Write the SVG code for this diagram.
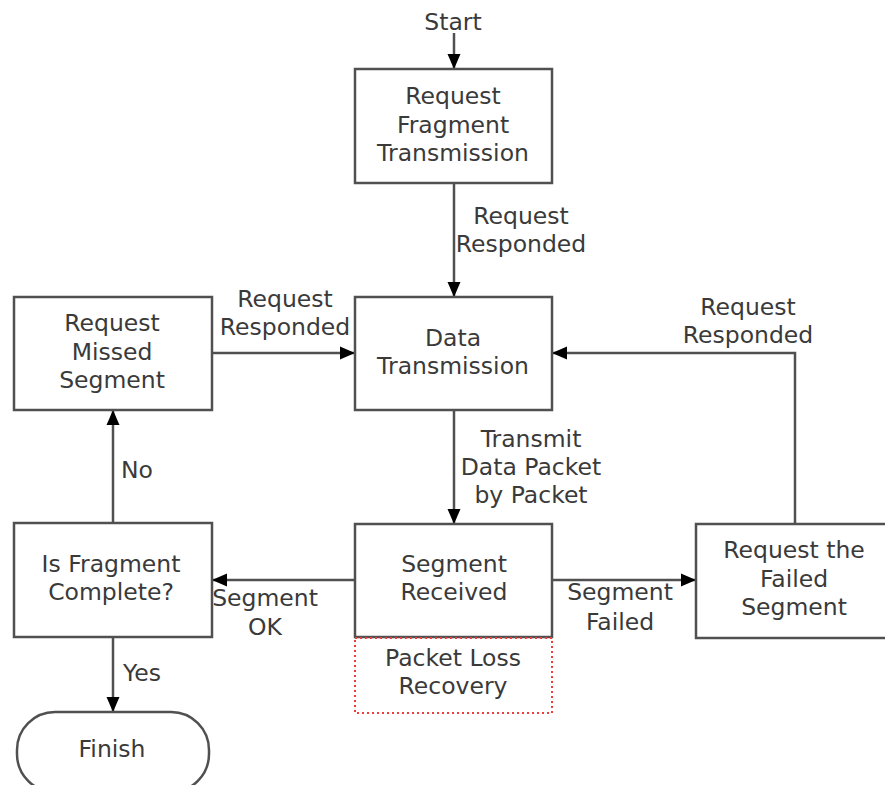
<svg xmlns="http://www.w3.org/2000/svg" width="885" height="785" viewBox="0 0 885 785">
  <style>
    .box { fill: #ffffff; stroke: #505050; stroke-width: 2.5; }
    .note { fill: none; stroke: #f03c3c; stroke-width: 2; stroke-dasharray: 2 3; }
    .edge { fill: none; stroke: #505050; stroke-width: 2.5; }
    text { font-family: "DejaVu Sans", Verdana, sans-serif; font-size: 23.5px; fill: #3a3a3a; text-anchor: middle; }
  </style>
  <defs>
    <marker id="arrow" markerUnits="userSpaceOnUse" markerWidth="15" markerHeight="14" refX="15" refY="7" orient="auto">
      <path d="M0,0.5 L15,7 L0,13.5 Z" fill="#000000"/>
    </marker>
  </defs>

  <rect width="885" height="785" fill="#ffffff"/>

  <!-- connectors -->
  <g id="connectors">
    <line class="edge" x1="454" y1="33" x2="454" y2="69" marker-end="url(#arrow)"/>
    <line class="edge" x1="454" y1="183" x2="454" y2="297" marker-end="url(#arrow)"/>
    <line class="edge" x1="212" y1="353" x2="355" y2="353" marker-end="url(#arrow)"/>
    <line class="edge" x1="454" y1="410" x2="454" y2="524" marker-end="url(#arrow)"/>
    <line class="edge" x1="552" y1="580" x2="696" y2="580" marker-end="url(#arrow)"/>
    <line class="edge" x1="355" y1="580" x2="212" y2="580" marker-end="url(#arrow)"/>
    <line class="edge" x1="113" y1="523" x2="113" y2="410" marker-end="url(#arrow)"/>
    <line class="edge" x1="113" y1="637" x2="113" y2="712" marker-end="url(#arrow)"/>
    <path class="edge" d="M795,524 V353 H552" marker-end="url(#arrow)"/>

    <text x="453" y="30">Start</text>
    <text x="521" y="224">Request</text>
    <text x="521" y="252">Responded</text>
    <text x="285" y="307">Request</text>
    <text x="285" y="335">Responded</text>
    <text x="748" y="315">Request</text>
    <text x="748" y="343">Responded</text>
    <text x="531" y="447">Transmit</text>
    <text x="531" y="475">Data Packet</text>
    <text x="531" y="503">by Packet</text>
    <text x="620" y="600">Segment</text>
    <text x="620" y="630">Failed</text>
    <text x="265" y="606">Segment</text>
    <text x="265" y="635">OK</text>
    <text x="137" y="478">No</text>
    <text x="142" y="681">Yes</text>
  </g>

  <g id="request-fragment">
    <rect class="box" x="355" y="69" width="197" height="114"/>
    <text x="453" y="104">Request</text>
    <text x="453" y="133">Fragment</text>
    <text x="453" y="161">Transmission</text>
  </g>

  <g id="data-transmission">
    <rect class="box" x="355" y="297" width="197" height="113"/>
    <text x="453" y="346">Data</text>
    <text x="453" y="374">Transmission</text>
  </g>

  <g id="request-missed">
    <rect class="box" x="14" y="297" width="198" height="113"/>
    <text x="112" y="331">Request</text>
    <text x="112" y="360">Missed</text>
    <text x="112" y="388">Segment</text>
  </g>

  <g id="segment-received">
    <rect class="box" x="355" y="524" width="197" height="113"/>
    <text x="454" y="572">Segment</text>
    <text x="454" y="600">Received</text>
  </g>

  <g id="packet-loss-recovery">
    <rect class="note" x="355" y="638" width="197" height="75"/>
    <text x="453" y="666">Packet Loss</text>
    <text x="453" y="694">Recovery</text>
  </g>

  <g id="request-failed">
    <rect class="box" x="696" y="524" width="197" height="114"/>
    <text x="794" y="558">Request the</text>
    <text x="794" y="587">Failed</text>
    <text x="794" y="615">Segment</text>
  </g>

  <g id="is-fragment-complete">
    <rect class="box" x="14" y="523" width="198" height="114"/>
    <text x="111" y="572">Is Fragment</text>
    <text x="111" y="600">Complete?</text>
  </g>

  <g id="finish">
    <rect class="box" x="17" y="712" width="192" height="80" rx="38" ry="38"/>
    <text x="112" y="757">Finish</text>
  </g>
</svg>
